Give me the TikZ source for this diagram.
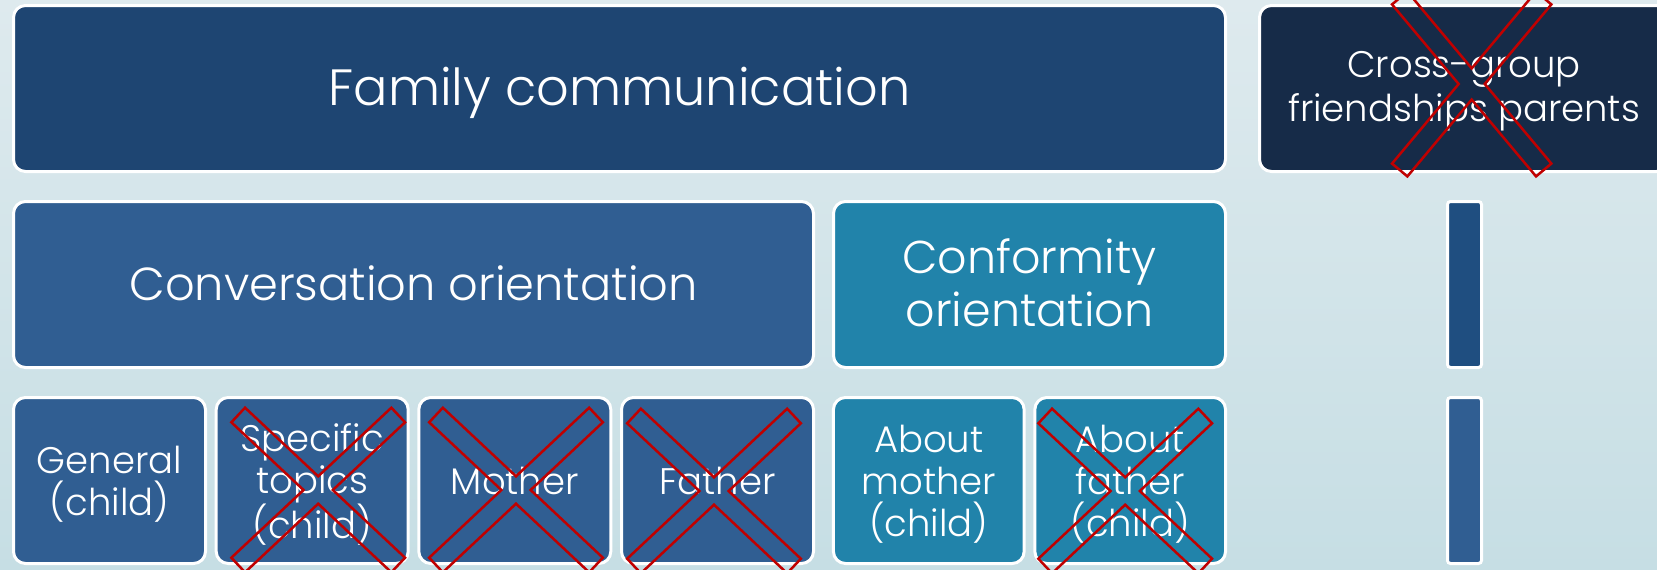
\documentclass[tikz,border=0pt]{standalone}
\usepackage{fontspec}
\IfFontExistsTF{Poppins Light}{\setmainfont{Poppins Light}}{\setmainfont{Poppins}}
\usetikzlibrary{calc}
\definecolor{bgtop}{HTML}{DEEAEE}
\definecolor{bgbot}{HTML}{C6DEE4}
\definecolor{navy}{HTML}{1E4572}
\definecolor{darknavy}{HTML}{162B48}
\definecolor{midblue}{HTML}{305E92}
\definecolor{teal}{HTML}{2183AA}
\definecolor{barblue}{HTML}{1F4E80}
\definecolor{xred}{HTML}{C00000}
\tikzset{
  box/.style={draw=white, line width=3pt, rounded corners=12pt,
    inner sep=0pt, outer sep=0pt, minimum height=166pt},
  boxtext/.style={text=white, align=center, inner sep=0pt},
  bar/.style={draw=white, line width=3pt, rounded corners=3pt,
    inner sep=0pt, outer sep=0pt, minimum width=34pt, minimum height=166pt},
  xmark/.style={draw=xred, line width=2.5pt, line join=miter},
  bigfont/.style={font=\fontsize{51}{60}\selectfont},
  midfont/.style={font=\fontsize{46.3}{52}\selectfont},
  confont/.style={font=\fontsize{46}{53}\selectfont},
  smallfont/.style={font=\fontsize{37}{42}\selectfont},
  crossfont/.style={font=\fontsize{37}{43.5}\selectfont},
}
\newcommand{\redcross}[4]{%
  \pgfmathsetmacro{\rcL}{sqrt((#2)*(#2)+(#3)*(#3))}%
  \pgfmathsetmacro{\rcP}{(#4)*(#3)/\rcL}%
  \pgfmathsetmacro{\rcQ}{(#4)*(#2)/\rcL}%
  \pgfmathsetmacro{\rcV}{(#4)*\rcL/(#2)}%
  \pgfmathsetmacro{\rcH}{(#4)*\rcL/(#3)}%
  \begin{scope}[shift={#1}]
    \draw[xmark] ({-#2-\rcP},{#3-\rcQ}) -- ({-#2+\rcP},{#3+\rcQ}) -- (0,\rcV)
      -- ({#2-\rcP},{#3+\rcQ}) -- ({#2+\rcP},{#3-\rcQ}) -- (\rcH,0)
      -- ({#2+\rcP},{-#3+\rcQ}) -- ({#2-\rcP},{-#3-\rcQ}) -- (0,-\rcV)
      -- ({-#2+\rcP},{-#3-\rcQ}) -- ({-#2-\rcP},{-#3+\rcQ}) -- (-\rcH,0) -- cycle;
  \end{scope}}
\begin{document}
\begin{tikzpicture}[x=1pt,y=-1pt]
  \useasboundingbox (0,0) rectangle (1657,570);
  \clip (0,0) rectangle (1657,570);
  \shade[top color=bgtop, bottom color=bgbot] (0,0) rectangle (1657,570);

  % top row
  \node[box, fill=navy, minimum width=1212pt] (family) at (619.5,88.5) {};
  \node[boxtext, bigfont] (familyt) at ($(family.center)+(0,4)$) {Family communication};
  \node[box, fill=darknavy, minimum width=409pt] (cross) at (1464,88.5) {};
  \node[boxtext, crossfont] (crosst) at ($(cross.center)+(0,2.5)$) {Cross-group\\friendships parents};

  % middle row
  \node[box, fill=midblue, minimum width=800pt] (conv) at (413.5,284.5) {};
  \node[boxtext, midfont] (convt) at ($(conv.center)+(0,-1.5)$) {Conversation orientation};
  \node[box, fill=teal, minimum width=392pt] (conf) at (1029.5,284.5) {};
  \node[boxtext, confont] (conft) at ($(conf.center)+(0,-2)$) {Conformity\\orientation};
  \node[bar, fill=barblue] (bar1) at (1464.5,284.5) {};

  % bottom row
  \node[box, fill=midblue, minimum width=192pt] (gen) at (109.5,480.5) {};
  \node[boxtext, smallfont] (gent) at ($(gen.center)+(0,4)$) {General\\(child)};
  \node[box, fill=midblue, minimum width=192pt] (spec) at (312.2,480.5) {};
  \node[boxtext, smallfont] (spect) at ($(spec.center)+(0,4)$) {Specific\\topics\\(child)};
  \node[box, fill=midblue, minimum width=192pt] (moth) at (514.8,480.5) {};
  \node[boxtext, smallfont] (motht) at (moth.center) {Mother};
  \node[box, fill=midblue, minimum width=192pt] (fath) at (717.5,480.5) {};
  \node[boxtext, smallfont] (fatht) at (fath.center) {Father};
  \node[box, fill=teal, minimum width=190.7pt] (abmo) at (928.8,480.5) {};
  \node[boxtext, smallfont] (abmot) at ($(abmo.center)+(0,4)$) {About\\mother\\(child)};
  \node[box, fill=teal, minimum width=190.7pt] (abfa) at (1130.2,480.5) {};
  \node[boxtext, smallfont] (abfat) at ($(abfa.center)+(0,4)$) {About\\father\\(child)};
  \node[bar, fill=midblue] (bar2) at (1464.5,480.5) {};

  % red crosses
  \redcross{($(spec.center)+(6,9.5)$)}{80}{75}{10}
  \redcross{($(moth.center)+(1.2,9.5)$)}{80}{75}{10}
  \redcross{($(fath.center)+(-3.5,10.5)$)}{80}{75}{10}
  \redcross{($(abfa.center)+(-5,10.5)$)}{80}{75}{10}
  \redcross{($(cross.center)+(7.7,-4.5)$)}{72}{86}{10}
\end{tikzpicture}
\end{document}
